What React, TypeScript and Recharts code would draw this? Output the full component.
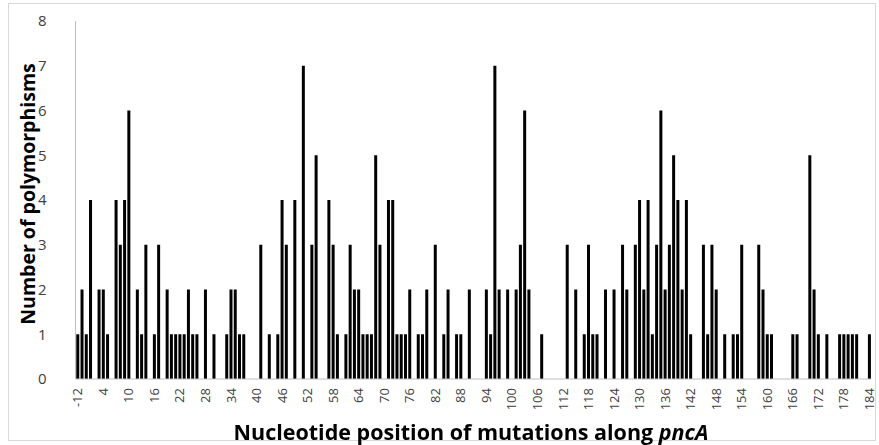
import { BarChart, Bar, XAxis, YAxis } from 'recharts'

// nucleotide positions along pncA (promoter positions first)
const positions = [
  -12, -11, -7, 1, 2, 3, 4, 5, 6, 7, 8, 9, 10, 11, 12, 13, 14, 15, 16, 17,
  18, 19, 20, 21, 22, 23, 24, 25, 26, 27, 28, 29, 30, 31, 32, 33, 34, 35, 36, 37,
  38, 39, 40, 41, 42, 43, 44, 45, 46, 47, 48, 49, 50, 51, 52, 53, 54, 55, 56, 57,
  58, 59, 60, 61, 62, 63, 64, 65, 66, 67, 68, 69, 70, 71, 72, 73, 74, 75, 76, 77,
  78, 79, 80, 81, 82, 83, 84, 85, 86, 87, 88, 89, 90, 91, 92, 93, 94, 95, 96, 97,
  98, 99, 100, 101, 102, 103, 104, 105, 106, 107, 108, 109, 110, 111, 112, 113, 114, 115, 116, 117,
  118, 119, 120, 121, 122, 123, 124, 125, 126, 127, 128, 129, 130, 131, 132, 133, 134, 135, 136, 137,
  138, 139, 140, 141, 142, 143, 144, 145, 146, 147, 148, 149, 150, 151, 152, 153, 154, 155, 156, 157,
  158, 159, 160, 161, 162, 163, 164, 165, 166, 167, 168, 169, 170, 171, 172, 173, 174, 175, 176, 177,
  178, 179, 180, 181, 182, 183, 184,
]

// number of polymorphisms at each position
const counts = [
  1, 2, 1, 4, 0, 2, 2, 1, 0, 4,
  3, 4, 6, 0, 2, 1, 3, 0, 1, 3,
  0, 2, 1, 1, 1, 1, 2, 1, 1, 0,
  2, 0, 1, 0, 0, 1, 2, 2, 1, 1,
  0, 0, 0, 3, 0, 1, 0, 1, 4, 3,
  0, 4, 0, 7, 0, 3, 5, 0, 0, 4,
  3, 1, 0, 1, 3, 2, 2, 1, 1, 1,
  5, 3, 0, 4, 4, 1, 1, 1, 2, 0,
  1, 1, 2, 0, 3, 0, 1, 2, 0, 1,
  1, 0, 2, 0, 0, 0, 2, 1, 7, 2,
  0, 2, 0, 2, 3, 6, 2, 0, 0, 1,
  0, 0, 0, 0, 0, 3, 0, 2, 0, 1,
  3, 1, 1, 0, 2, 0, 2, 0, 3, 2,
  0, 3, 4, 2, 4, 1, 3, 6, 2, 3,
  5, 4, 2, 4, 1, 0, 0, 3, 1, 3,
  2, 0, 1, 0, 1, 1, 3, 0, 0, 0,
  3, 2, 1, 1, 0, 0, 0, 0, 1, 1,
  0, 0, 5, 2, 1, 0, 1, 0, 0, 1,
  1, 1, 1, 1, 0, 0, 1,
]

const yTicks = [0, 1, 2, 3, 4, 5, 6, 7, 8]

const data = positions.map((p, i) => ({ pos: String(p), count: counts[i] }))

const font = '"Open Sans", Calibri, sans-serif'

function XTick(props: any) {
  const { x, y, payload } = props
  return (
    <g transform={`translate(${x},${y})`}>
      <text
        transform="rotate(-90)"
        textAnchor="end"
        dy="0.36em"
        fontSize={13}
        fill="#404040"
        fontFamily={font}
      >
        {payload.value}
      </text>
    </g>
  )
}

export default function App() {
  return (
    <div
      style={{
        position: 'fixed',
        left: 0,
        top: 0,
        width: 879,
        height: 445,
        background: '#fff',
        fontFamily: font,
      }}
    >
      <div
        style={{
          position: 'absolute',
          left: 8,
          top: 3,
          width: 866,
          height: 436,
          border: '1px solid #d9d9d9',
        }}
      />
      <div style={{ position: 'absolute', left: 0, top: 0 }}>
        <BarChart
          width={879}
          height={445}
          data={data}
          margin={{ top: 21, right: 7.6, bottom: 26, left: 0.5 }}
          barCategoryGap="18%"
        >
          <XAxis
            dataKey="pos"
            interval={5}
            tickLine={false}
            tickSize={0}
            tickMargin={9}
            height={40}
            axisLine={{ stroke: '#bfbfbf' }}
            tick={(p: any) => <XTick {...p} />}
          />
          <YAxis
            domain={[0, 8]}
            ticks={yTicks}
            interval={0}
            width={75}
            tickLine={false}
            tickSize={24}
            tickMargin={5}
            axisLine={{ stroke: '#bfbfbf' }}
            tick={{ fontSize: 15, fill: '#404040', fontFamily: font }}
          />
          <Bar dataKey="count" fill="#000" isAnimationActive={false} />
        </BarChart>
      </div>
      <div
        style={{
          position: 'absolute',
          left: 171,
          width: 600,
          top: 420,
          lineHeight: '24px',
          textAlign: 'center',
          fontSize: 21.5,
          fontWeight: 700,
          color: '#000',
        }}
      >
        Nucleotide position of mutations along <i>pncA</i>
      </div>
      <div
        style={{
          position: 'absolute',
          left: 28 - 150,
          top: 194 - 12,
          width: 300,
          height: 24,
          lineHeight: '24px',
          textAlign: 'center',
          fontSize: 19.5,
          fontWeight: 700,
          color: '#000',
          transform: 'rotate(-90deg)',
        }}
      >
        Number of polymorphisms
      </div>
    </div>
  )
}
